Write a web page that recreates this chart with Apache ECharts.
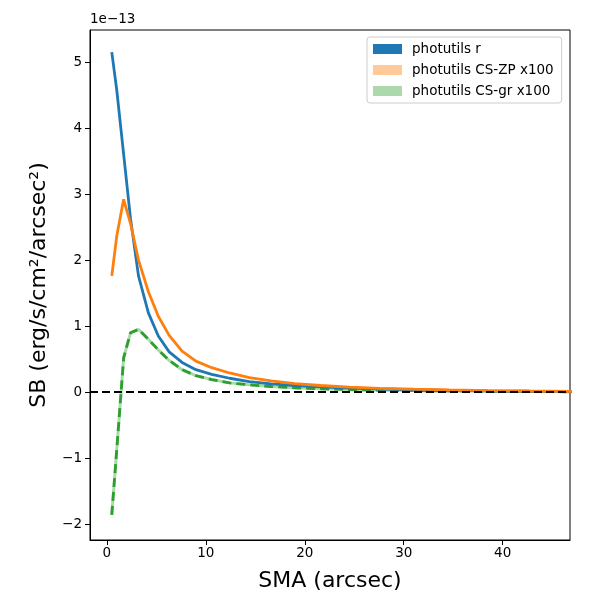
<!DOCTYPE html>
<html lang="en" style="height: 100%">
<head>
  <meta charset="utf-8">
</head>
<body style="height: 100%; margin: 0">
  <div id="container" style="width: 600px; height: 600px"></div>
  <script type="text/javascript" src="https://cdn.jsdelivr.net/npm/echarts@6/dist/echarts.min.js"></script>
  <script type="text/javascript">
    // SMA (arcsec) and surface brightness in units of 1e-13
    var sma = [0.5, 1.0, 1.7, 2.4, 3.2, 4.2, 5.2, 6.3, 7.6, 9.0, 10.6, 12.4, 14.4, 16.6, 19.0, 21.6, 24.5, 27.6, 31.0, 34.6, 38.5, 42.7, 47.2];
    var sbR = [5.15, 4.58, 3.6, 2.62, 1.76, 1.2, 0.85, 0.61, 0.45, 0.34, 0.27, 0.21, 0.16, 0.125, 0.1, 0.08, 0.06, 0.047, 0.036, 0.027, 0.02, 0.014, 0.01];
    var sbZP = [1.76, 2.36, 2.92, 2.55, 2.0, 1.52, 1.15, 0.86, 0.62, 0.47, 0.37, 0.29, 0.22, 0.17, 0.13, 0.1, 0.075, 0.058, 0.044, 0.033, 0.024, 0.017, 0.012];
    var sbGR = [-1.86, -0.88, 0.52, 0.9, 0.95, 0.8, 0.64, 0.48, 0.34, 0.25, 0.19, 0.14, 0.11, 0.085, 0.065, 0.05, 0.038, 0.03, 0.023, 0.017, 0.012, 0.008, 0.005];
    var xTicks = [0, 10, 20, 30, 40];
    var yTicks = [-2, -1, 0, 1, 2, 3, 4, 5];

    function pairs(ys) {
      return sma.map(function (x, i) { return [x, ys[i]]; });
    }
    function minus(v) {
      return String(v).replace('-', '\u2212');
    }

    var font = 'DejaVu Sans';
    var dom = document.getElementById('container');
    var myChart = echarts.init(dom, null, { renderer: 'canvas' });

    var option = {
      animation: false,
      textStyle: { fontFamily: font },
      grid: {
        left: 90, right: 30, top: 30, bottom: 60,
        show: true, borderColor: '#000', borderWidth: 1
      },
      legend: {
        orient: 'vertical',
        left: 367, top: 37,
        padding: [5, 8, 5, 6],
        itemWidth: 29, itemHeight: 10, itemGap: 7,
        icon: 'rect',
        backgroundColor: 'rgba(255,255,255,0.8)',
        borderColor: '#cccccc', borderWidth: 1, borderRadius: 3,
        textStyle: { fontFamily: font, fontSize: 13.5, color: '#000', padding: [0, 0, 0, 5] },
        data: [
          { name: 'photutils r', itemStyle: { color: '#1f77b4', borderWidth: 0 } },
          { name: 'photutils CS-ZP x100', itemStyle: { color: '#ffc999', borderWidth: 0 } },
          { name: 'photutils CS-gr x100', itemStyle: { color: '#abd9ab', borderWidth: 0 } }
        ]
      },
      xAxis: {
        type: 'value',
        min: -1.7, max: 46.8,
        name: 'SMA (arcsec)',
        nameLocation: 'middle',
        nameGap: 30,
        nameTextStyle: { fontFamily: font, fontSize: 22, color: '#000' },
        axisLine: { show: true, onZero: false, lineStyle: { color: '#000' } },
        axisTick: { show: true, length: 5, customValues: xTicks, lineStyle: { color: '#000' } },
        axisLabel: { customValues: xTicks, fontSize: 13.5, color: '#000', margin: 6, formatter: minus },
        splitLine: { show: false }
      },
      yAxis: {
        type: 'value',
        min: -2.24, max: 5.485,
        name: 'SB (erg/s/cm\u00b2/arcsec\u00b2)',
        nameLocation: 'middle',
        nameGap: 40,
        nameTextStyle: { fontFamily: font, fontSize: 22, color: '#000' },
        axisLine: { show: true, onZero: false, lineStyle: { color: '#000' } },
        axisTick: { show: true, length: 5, customValues: yTicks, lineStyle: { color: '#000' } },
        axisLabel: { customValues: yTicks, fontSize: 13.5, color: '#000', margin: 8, formatter: minus },
        splitLine: { show: false }
      },
      graphic: [
        {
          type: 'text', left: 90, top: 12,
          style: { text: '1e\u221213', font: '13.5px "DejaVu Sans"', fill: '#000' }
        }
      ],
      series: [
        {
          name: 'photutils r',
          type: 'line',
          data: pairs(sbR),
          showSymbol: false,
          color: '#1f77b4',
          lineStyle: { width: 2.8, color: '#1f77b4' },
          z: 3
        },
        {
          name: 'photutils CS-ZP x100',
          type: 'line',
          data: pairs(sbZP),
          showSymbol: false,
          color: '#ff7f0e',
          lineStyle: { width: 2.8, color: '#ff7f0e' },
          z: 4
        },
        {
          name: 'gr band',
          type: 'line',
          data: pairs(sbGR),
          showSymbol: false,
          lineStyle: { width: 3, color: 'rgba(44,160,44,0.4)' },
          z: 2
        },
        {
          name: 'photutils CS-gr x100',
          type: 'line',
          data: pairs(sbGR),
          showSymbol: false,
          color: '#2ca02c',
          lineStyle: { width: 2.8, color: '#2ca02c', type: [9, 5] },
          z: 2,
          markLine: {
            silent: true,
            symbol: 'none',
            label: { show: false },
            lineStyle: { color: '#000', width: 2, type: [8, 4] },
            data: [{ yAxis: 0 }],
            z: 5
          }
        }
      ]
    };

    myChart.setOption(option);
    window.addEventListener('resize', myChart.resize);
  </script>
</body>
</html>
